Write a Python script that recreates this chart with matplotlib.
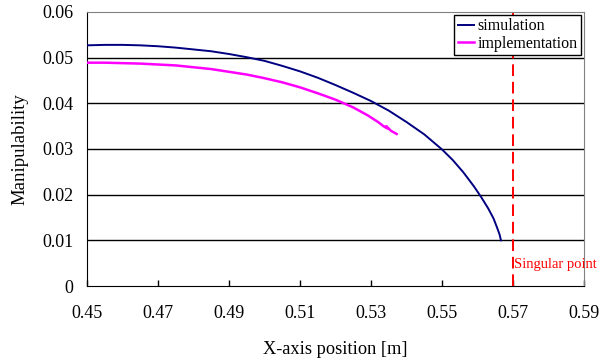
import matplotlib.pyplot as plt

plt.rcParams['font.family'] = ['Liberation Serif', 'DejaVu Serif']

# simulation curve
sim_x = [0.45, 0.455, 0.46, 0.465, 0.47, 0.475, 0.48, 0.485, 0.49, 0.495,
         0.50, 0.505, 0.51, 0.515, 0.52, 0.525, 0.53, 0.535, 0.54, 0.545,
         0.55, 0.553, 0.556, 0.559, 0.561, 0.563, 0.5645, 0.5655, 0.5662, 0.5666]
sim_y = [0.0527, 0.0528, 0.0528, 0.0527, 0.0525, 0.0522, 0.0518, 0.0514, 0.0508, 0.0501,
         0.0493, 0.0482, 0.0470, 0.0456, 0.0440, 0.0423, 0.0405, 0.0384, 0.0359, 0.0332,
         0.0299, 0.0276, 0.0249, 0.0218, 0.0195, 0.0170, 0.0148, 0.0128, 0.0113, 0.0100]

# implementation curve
imp_x = [0.45, 0.455, 0.46, 0.465, 0.47, 0.475, 0.48, 0.485, 0.49, 0.495,
         0.50, 0.505, 0.51, 0.515, 0.52, 0.525, 0.529, 0.532, 0.5335,
         0.5346, 0.5343, 0.5356, 0.5372]
imp_y = [0.0489, 0.0489, 0.0488, 0.0487, 0.0485, 0.0483, 0.0479, 0.0475, 0.0469, 0.0463,
         0.0455, 0.0446, 0.0435, 0.0422, 0.0408, 0.0391, 0.0374, 0.0359, 0.0350,
         0.0345, 0.0350, 0.0340, 0.0333]

singular_x = 0.57

x_ticks = [0.45, 0.47, 0.49, 0.51, 0.53, 0.55, 0.57, 0.59]
y_ticks = [0, 0.01, 0.02, 0.03, 0.04, 0.05, 0.06]

fig = plt.figure(figsize=(6.09, 3.58), dpi=100)
ax = fig.add_axes([0.1429, 0.2011, 0.959 - 0.1429, 0.9665 - 0.2011])

for yv in y_ticks[1:-1]:
    ax.axhline(yv, color='black', lw=1.0, zorder=1)

ax.plot(sim_x, sim_y, color='#000080', lw=1.4, label='simulation', zorder=3)
ax.plot(imp_x, imp_y, color='#FF00FF', lw=1.8, label='implementation', zorder=3)
ax.axvline(singular_x, color='#FF0000', lw=1.4, ls=(0, (6, 3)), zorder=2)
ax.text(singular_x + 0.0003, 0.0048, 'Singular point', color='#FF0000', fontsize=10.5,
        va='center', ha='left')

ax.set_xlim(0.45, 0.59)
ax.set_ylim(0, 0.06)
ax.set_xticks(x_ticks)
ax.set_xticklabels([f'{v:.2f}' for v in x_ticks])
ax.set_yticks(y_ticks)
ax.set_yticklabels(['0'] + [f'{v:.2f}' for v in y_ticks[1:]])
ax.tick_params(axis='x', direction='in', length=4.5, width=1, pad=14, labelsize=13)
ax.tick_params(axis='y', length=0, pad=10, labelsize=13)

ax.spines['top'].set_color('#808080')
ax.spines['right'].set_color('#808080')
ax.spines['left'].set_color('black')
ax.spines['bottom'].set_color('black')

ax.set_xlabel('X-axis position [m]', fontsize=13.2, labelpad=13)
ax.set_ylabel('Manipulability', fontsize=13.5, labelpad=10)

leg = ax.legend(loc='upper right', fontsize=11.5, frameon=True, fancybox=False,
                edgecolor='black', framealpha=1, handlelength=1.0, handletextpad=0.25,
                borderpad=0.2, labelspacing=0.1, borderaxespad=0.2)
leg.get_frame().set_linewidth(1.0)
leg.set_zorder(5)

fig.savefig('out.png', dpi=100)
